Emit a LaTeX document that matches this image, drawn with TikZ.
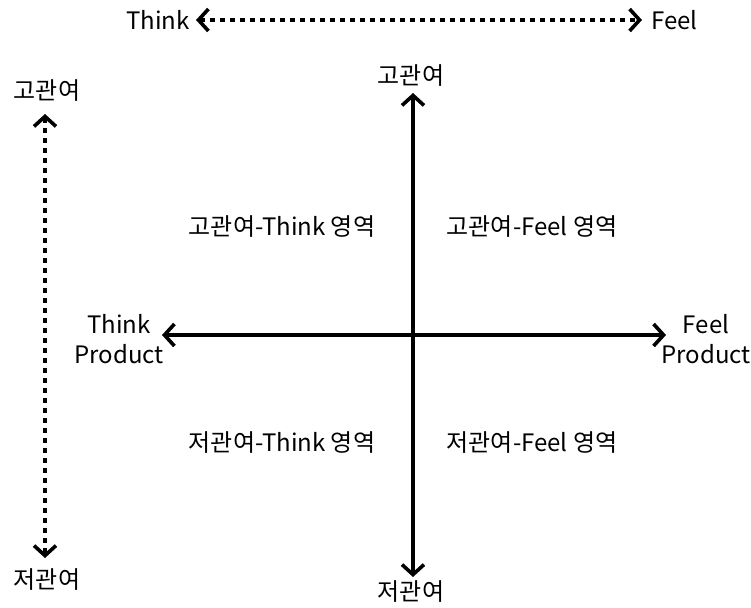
\documentclass[tikz,border=0pt]{standalone}
\usepackage{fontspec}
\setmainfont{Noto Sans CJK KR}
\usetikzlibrary{arrows.meta}
\begin{document}
\begin{tikzpicture}[x=1pt,y=-1pt,
  lbl/.style={font=\fontsize{24}{30}\selectfont, inner sep=0pt, align=center},
  barb/.tip={Straight Barb[length=10pt,width=22pt,line width=3.6pt]},
  axisline/.style={line width=4.2pt, barb-barb},
  dotline/.style={line width=4.2pt, dash pattern=on 5pt off 5pt, barb-barb}]
\useasboundingbox (0,0) rectangle (751,607);
% top
\node[lbl, anchor=east] (think) at (190,20) {Think};
\node[lbl, anchor=west] (feel) at (651,20) {Feel};
\coordinate (tl) at (196,20);
\coordinate (tr) at (642,20);
\draw[dotline] (tl) -- (tr);
% left
\node[lbl] (lhi) at (47,91) {고관여};
\node[lbl] (llo) at (47,580) {저관여};
\coordinate (lt) at (45,114);
\coordinate (lb) at (45,558);
\draw[dotline] (lt) -- (lb);
% center axes
\node[lbl] (chi) at (411,76) {고관여};
\node[lbl] (clo) at (411,592) {저관여};
\node[lbl] (tp) at (119,339) {Think\\Product};
\node[lbl] (fp) at (706,339) {Feel\\Product};
\coordinate (vt) at (413,93);
\coordinate (vb) at (413,577);
\coordinate (hl) at (162,335);
\coordinate (hr) at (666,335);
\draw[axisline] (vt) -- (vb);
\draw[axisline] (hl) -- (hr);
% quadrants
\node[lbl] (q1) at (282,227) {고관여-Think 영역};
\node[lbl] (q2) at (532,227) {고관여-Feel 영역};
\node[lbl] (q3) at (282,443) {저관여-Think 영역};
\node[lbl] (q4) at (532,443) {저관여-Feel 영역};
\end{tikzpicture}
\end{document}
